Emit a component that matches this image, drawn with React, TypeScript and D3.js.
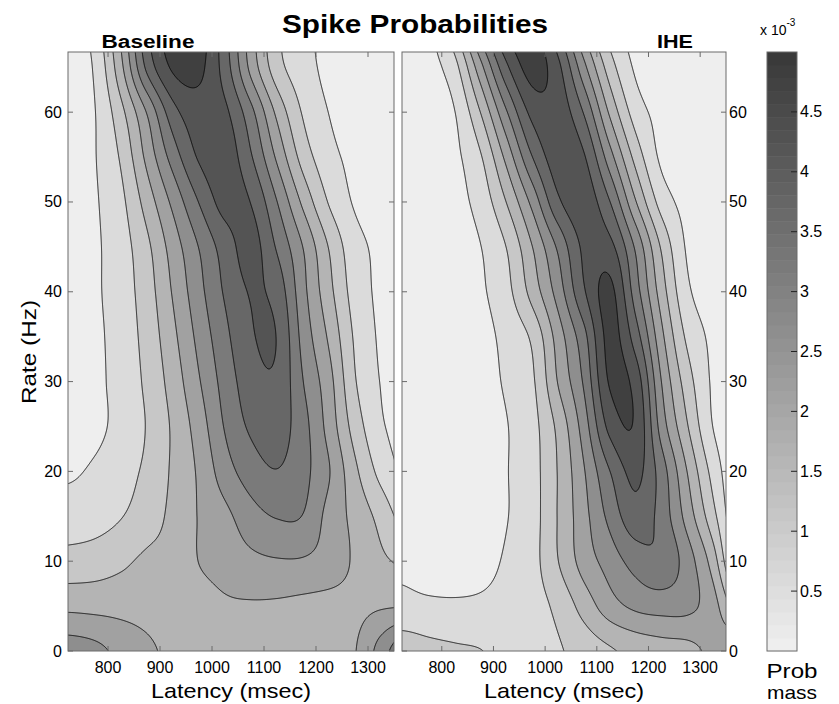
import React, { useMemo } from "react";
import * as d3 from "d3";

// ---------------- data (prob mass, units of 1e-3) ----------------
const latencyGrid = [725, 775, 825, 875, 925, 975, 1025, 1075, 1125, 1175, 1225, 1275, 1325, 1375];
const rateGrid = [0, 5, 10, 15, 20, 25, 30, 35, 40, 45, 50, 55, 60, 65, 70];

// Baseline rows (one per rate value)
const baseline0 = [2.75, 2.63, 2.36, 2.1, 1.88, 1.8, 1.75, 1.73, 1.73, 1.75, 1.83, 1.98, 2.73, 3.5];
const baseline5 = [1.88, 1.85, 1.83, 1.8, 1.73, 1.8, 1.93, 1.95, 1.93, 1.88, 1.85, 1.88, 1.95, 1.98];
const baseline10 = [1.18, 1.25, 1.4, 1.6, 1.68, 2.01, 2.2, 2.38, 2.46, 2.45, 2.28, 1.93, 1.6, 1.4];
const baseline15 = [0.75, 0.8, 0.98, 1.25, 1.63, 2.03, 2.37, 2.8, 3.03, 2.98, 2.33, 1.85, 1.33, 0.75];
const baseline20 = [0.43, 0.58, 0.82, 1.1, 1.58, 2.08, 2.77, 3.25, 3.48, 3.15, 2.53, 1.61, 0.84, 0.4];
const baseline25 = [0.28, 0.38, 0.67, 1.03, 1.58, 2.24, 3.04, 3.58, 3.73, 3.18, 2.31, 1.28, 0.57, 0.33];
const baseline30 = [0.25, 0.38, 0.7, 1.1, 1.72, 2.46, 3.2, 3.78, 3.9, 3.01, 2.18, 1.04, 0.48, 0.3];
const baseline35 = [0.25, 0.4, 0.72, 1.18, 1.88, 2.65, 3.37, 3.95, 3.98, 2.83, 1.92, 0.93, 0.43, 0.28];
const baseline40 = [0.23, 0.43, 0.75, 1.27, 2.05, 2.84, 3.56, 4.03, 3.8, 2.66, 1.66, 0.79, 0.4, 0.25];
const baseline45 = [0.23, 0.43, 0.78, 1.39, 2.23, 3.02, 3.73, 4.18, 3.44, 2.49, 1.47, 0.68, 0.4, 0.25];
const baseline50 = [0.2, 0.45, 0.88, 1.72, 2.63, 3.52, 4.18, 3.98, 3.01, 1.89, 0.96, 0.45, 0.3, 0.2];
const baseline55 = [0.2, 0.48, 1.07, 2.14, 3.22, 4.06, 4.28, 3.55, 2.41, 1.3, 0.66, 0.38, 0.25, 0.18];
const baseline60 = [0.2, 0.49, 1.35, 2.54, 3.81, 4.3, 4.1, 3.15, 1.88, 0.95, 0.49, 0.3, 0.2, 0.15];
const baseline65 = [0.2, 0.58, 1.87, 3.62, 4.58, 4.62, 3.76, 2.35, 1.21, 0.7, 0.38, 0.25, 0.18, 0.13];
const baseline70 = [0.2, 0.73, 2.1, 3.9, 4.8, 4.78, 3.68, 2.24, 1.11, 0.63, 0.36, 0.25, 0.18, 0.13];

// IHE rows
const ihe0 = [1.25, 1.13, 1.06, 1.01, 0.88, 0.8, 0.95, 1.2, 1.44, 1.65, 1.78, 1.85, 2.15, 2.5];
const ihe5 = [0.65, 0.6, 0.58, 0.6, 0.68, 0.8, 1.13, 1.7, 2.28, 2.6, 2.7, 2.63, 2.2, 1.2];
const ihe10 = [0.38, 0.25, 0.23, 0.33, 0.56, 0.83, 1.49, 2.21, 2.72, 3.2, 3.38, 2.75, 1.75, 0.1];
const ihe15 = [0.15, 0.17, 0.23, 0.3, 0.48, 0.8, 1.53, 2.33, 3.14, 3.8, 3.3, 2.3, 1.16, 0.02];
const ihe20 = [0.15, 0.17, 0.23, 0.3, 0.48, 0.81, 1.53, 2.46, 3.49, 4.13, 3.25, 1.99, 0.82, 0.03];
const ihe25 = [0.15, 0.18, 0.23, 0.3, 0.48, 0.83, 1.63, 2.74, 4.15, 4.43, 2.79, 1.54, 0.49, 0.15];
const ihe30 = [0.15, 0.18, 0.25, 0.33, 0.56, 0.92, 2.03, 3.07, 4.55, 4.3, 2.5, 1.24, 0.43, 0.28];
const ihe35 = [0.15, 0.2, 0.25, 0.35, 0.64, 1.1, 2.23, 3.34, 4.65, 3.75, 2.14, 0.9, 0.4, 0.25];
const ihe40 = [0.15, 0.2, 0.28, 0.43, 0.84, 1.69, 2.72, 3.94, 4.63, 3.25, 1.76, 0.6, 0.3, 0.2];
const ihe45 = [0.15, 0.2, 0.3, 0.49, 1.01, 1.99, 3.09, 4.1, 4.15, 2.92, 1.44, 0.44, 0.25, 0.18];
const ihe50 = [0.15, 0.23, 0.35, 0.69, 1.51, 2.65, 3.9, 4.28, 3.52, 2.04, 0.8, 0.35, 0.23, 0.15];
const ihe55 = [0.15, 0.25, 0.4, 0.95, 2.15, 3.49, 4.28, 4.05, 2.72, 1.33, 0.41, 0.28, 0.18, 0.13];
const ihe60 = [0.15, 0.28, 0.49, 1.51, 2.95, 4.15, 4.3, 3.46, 1.92, 0.77, 0.35, 0.23, 0.15, 0.13];
const ihe65 = [0.15, 0.33, 0.83, 2.33, 3.89, 4.7, 4.13, 2.65, 1.25, 0.43, 0.25, 0.18, 0.15, 0.13];
const ihe70 = [0.15, 0.38, 1.45, 3.33, 4.65, 4.78, 3.52, 1.87, 0.73, 0.3, 0.2, 0.15, 0.13, 0.1];

const baselineRows = [baseline0, baseline5, baseline10, baseline15, baseline20, baseline25, baseline30,
  baseline35, baseline40, baseline45, baseline50, baseline55, baseline60, baseline65, baseline70];
const iheRows = [ihe0, ihe5, ihe10, ihe15, ihe20, ihe25, ihe30, ihe35, ihe40, ihe45, ihe50, ihe55,
  ihe60, ihe65, ihe70];

const levels = [0.5, 1, 1.5, 2, 2.5, 3, 3.5, 4, 4.5];
const xTicks = [800, 900, 1000, 1100, 1200, 1300];
const yTicks = [0, 10, 20, 30, 40, 50, 60];
const cbTicks = [0.5, 1, 1.5, 2, 2.5, 3, 3.5, 4, 4.5];
const cbLabels = ["0.5", "1", "1.5", "2", "2.5", "3", "3.5", "4", "4.5"];

// ---------------- layout ----------------
const FONT = "'Liberation Sans', Arial, Helvetica, sans-serif";
const TOP = 52;
const BOTTOM = 651;
const LAT_DOMAIN = [723, 1350];
const RATE_DOMAIN = [0, 66.7];
const FRAME = "#6a6a6a";

function gray(g: number) {
  const v = Math.round(Math.max(0, Math.min(255, g)));
  return `rgb(${v},${v},${v})`;
}
function bandColor(k: number) {
  return gray(238 - 19.3 * k);
}

function cr(p0: number, p1: number, p2: number, p3: number, t: number) {
  return 0.5 * (2 * p1 + (-p0 + p2) * t + (2 * p0 - 5 * p1 + 4 * p2 - p3) * t * t +
    (-p0 + 3 * p1 - 3 * p2 + p3) * t * t * t);
}

function sampleGrid(rows: number[][], lat: number, rate: number) {
  const u = (lat - latencyGrid[0]) / (latencyGrid[1] - latencyGrid[0]);
  const v = (rate - rateGrid[0]) / (rateGrid[1] - rateGrid[0]);
  const nc = latencyGrid.length, nr = rateGrid.length;
  const iu = Math.floor(u), iv = Math.floor(v);
  const tu = u - iu, tv = v - iv;
  const col = (c: number) => Math.max(0, Math.min(nc - 1, c));
  const row = (r: number) => Math.max(0, Math.min(nr - 1, r));
  const t: number[] = [];
  for (let m = -1; m <= 2; m++) {
    const R = rows[row(iv + m)];
    t.push(cr(R[col(iu - 1)], R[col(iu)], R[col(iu + 1)], R[col(iu + 2)], tu));
  }
  return cr(t[0], t[1], t[2], t[3], tv);
}

function ContourPanel(props: { id: string; rows: number[][]; x0: number; x1: number; labelSide: "left" | "right" }) {
  const { id, rows, x0, x1, labelSide } = props;
  const xScale = d3.scaleLinear().domain(LAT_DOMAIN).range([x0, x1]);
  const yScale = d3.scaleLinear().domain(RATE_DOMAIN).range([BOTTOM, TOP]);

  const paths = useMemo(() => {
    const pad = 3;
    const gx0 = x0 - pad, gy0 = TOP - pad;
    const nx = Math.round(x1 - x0) + 2 * pad;
    const ny = Math.round(BOTTOM - TOP) + 2 * pad;
    const sx = (x1 - x0 + 2 * pad) / nx;
    const sy = (BOTTOM - TOP + 2 * pad) / ny;
    const values: number[] = new Array(nx * ny);
    for (let j = 0; j < ny; j++) {
      const rate = yScale.invert(gy0 + (j + 0.5) * sy);
      for (let i = 0; i < nx; i++) {
        const lat = xScale.invert(gx0 + (i + 0.5) * sx);
        values[j * nx + i] = sampleGrid(rows, lat, rate);
      }
    }
    const contours = d3.contours().size([nx, ny]).thresholds(levels)(values);
    const proj = d3.geoTransform({
      point: function (this: any, x: number, y: number) {
        this.stream.point(gx0 + x * sx, gy0 + y * sy);
      },
    });
    const path = d3.geoPath(proj as any);
    return contours.map((c, k) => ({ d: path(c as any) || "", k: k + 1 }));
  }, [rows, x0, x1]);

  const w = x1 - x0;
  const h = BOTTOM - TOP;
  return (
    <g>
      <defs>
        <clipPath id={`clip-${id}`}>
          <rect x={x0} y={TOP} width={w} height={h} />
        </clipPath>
      </defs>
      <g clipPath={`url(#clip-${id})`}>
        <rect x={x0} y={TOP} width={w} height={h} fill={bandColor(0)} />
        {paths.map((p) => (
          <path key={`f${p.k}`} d={p.d} fill={bandColor(p.k)} fillRule="evenodd" stroke="none" />
        ))}
        {paths.map((p) => (
          <path key={`s${p.k}`} d={p.d} fill="none" stroke="#000" strokeWidth={0.85} />
        ))}
      </g>
      <rect x={x0} y={TOP} width={w} height={h} fill="none" stroke={FRAME} strokeWidth={1} />
      {xTicks.map((t) => (
        <g key={`xt${t}`}>
          <line x1={xScale(t)} x2={xScale(t)} y1={BOTTOM} y2={BOTTOM - 5} stroke={FRAME} />
          <line x1={xScale(t)} x2={xScale(t)} y1={TOP} y2={TOP + 5} stroke={FRAME} />
          <text x={xScale(t)} y={673} fontSize={16} textAnchor="middle" fontFamily={FONT} fill="#000">
            {t}
          </text>
        </g>
      ))}
      {yTicks.map((t) => (
        <g key={`yt${t}`}>
          <line x1={x0} x2={x0 + 5} y1={yScale(t)} y2={yScale(t)} stroke={FRAME} />
          <line x1={x1} x2={x1 - 5} y1={yScale(t)} y2={yScale(t)} stroke={FRAME} />
          {labelSide === "left" ? (
            <text x={x0 - 6} y={yScale(t) + 5.5} fontSize={16} textAnchor="end" fontFamily={FONT}>
              {t}
            </text>
          ) : (
            <text x={x1 + 3} y={yScale(t) + 5.5} fontSize={16} textAnchor="start" fontFamily={FONT}>
              {t}
            </text>
          )}
        </g>
      ))}
      <text x={(x0 + x1) / 2} y={698} fontSize={21} textAnchor="middle" fontFamily={FONT}
        textLength={160} lengthAdjust="spacingAndGlyphs">
        Latency (msec)
      </text>
    </g>
  );
}

function ColorBar() {
  const x0 = 767, x1 = 797;
  const scale = d3.scaleLinear().domain([0, 5]).range([BOTTOM, TOP]);
  const nSteps = 46;
  const steps = d3.range(nSteps);
  return (
    <g>
      {steps.map((s) => {
        const v0 = (s * 5) / nSteps;
        const v1 = ((s + 1) * 5) / nSteps;
        const y0 = scale(v1);
        const y1 = scale(v0);
        return (
          <rect key={s} x={x0} y={y0} width={x1 - x0} height={y1 - y0 + 0.5}
            fill={gray(238 - (238 - 58) * (s / (nSteps - 1)))} />
        );
      })}
      <rect x={x0} y={TOP} width={x1 - x0} height={BOTTOM - TOP} fill="none" stroke={FRAME} />
      {cbTicks.map((t, i) => (
        <g key={t}>
          <line x1={x1 - 6} x2={x1} y1={scale(t)} y2={scale(t)} stroke="#222" />
          <text x={x1 + 3} y={scale(t) + 5.5} fontSize={16} fontFamily={FONT}>
            {cbLabels[i]}
          </text>
        </g>
      ))}
      <text x={760} y={35} fontSize={14} fontFamily={FONT}>
        x 10<tspan dy={-9} fontSize={10}>-3</tspan>
      </text>
      <text x={792} y={678} fontSize={21} textAnchor="middle" fontFamily={FONT}
        textLength={51} lengthAdjust="spacingAndGlyphs">Prob</text>
      <text x={792} y={699} fontSize={19} textAnchor="middle" fontFamily={FONT}
        textLength={50} lengthAdjust="spacingAndGlyphs">mass</text>
    </g>
  );
}

export default function App() {
  return (
    <svg width={839} height={704} viewBox="0 0 839 704"
      style={{ position: "absolute", left: 0, top: 0, background: "#fff" }}>
      <rect x={0} y={0} width={839} height={704} fill="#fff" />
      <ContourPanel id="base" rows={baselineRows} x0={68} x1={394} labelSide="left" />
      <ContourPanel id="ihe" rows={iheRows} x0={402} x1={726} labelSide="right" />
      <ColorBar />
      <text x={415} y={33} fontSize={25} fontWeight="bold" textAnchor="middle" fontFamily={FONT}
        textLength={266} lengthAdjust="spacingAndGlyphs">
        Spike Probabilities
      </text>
      <text x={148} y={48} fontSize={18} fontWeight="bold" textAnchor="middle" fontFamily={FONT}
        textLength={93} lengthAdjust="spacingAndGlyphs">
        Baseline
      </text>
      <text x={675} y={48} fontSize={18} fontWeight="bold" textAnchor="middle" fontFamily={FONT}
        textLength={36} lengthAdjust="spacingAndGlyphs">
        IHE
      </text>
      <text transform="translate(36,352) rotate(-90)" fontSize={21} textAnchor="middle" fontFamily={FONT}
        textLength={104} lengthAdjust="spacingAndGlyphs">
        Rate (Hz)
      </text>
    </svg>
  );
}
